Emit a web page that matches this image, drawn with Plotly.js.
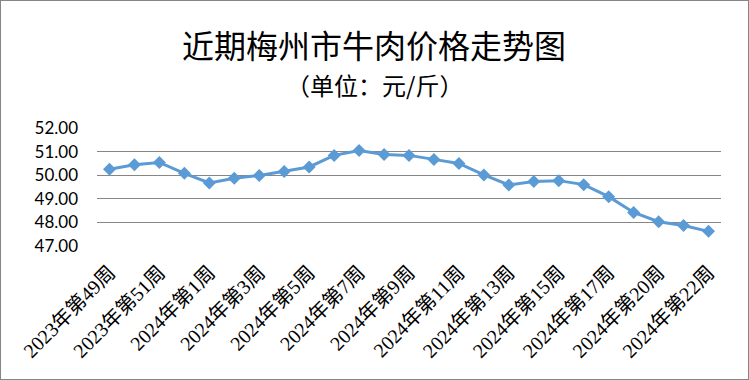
<!DOCTYPE html>
<html>
<head>
<meta charset="utf-8">
<script src="https://cdn.plot.ly/plotly-3.0.1.min.js"></script>
<style>
  html, body { margin: 0; padding: 0; background: #fff; }
  #wrap { position: absolute; left: 0; top: 0; width: 749px; height: 380px; box-sizing: border-box; border: 1px solid #868686; }
  #chart { position: absolute; left: 0; top: 0; width: 747px; height: 378px; }
</style>
</head>
<body>
<div id="wrap"><div id="chart"></div></div>
<script>
const weeks = [
  "2023年第49周","2023年第50周","2023年第51周","2023年第52周",
  "2024年第1周","2024年第2周","2024年第3周","2024年第4周","2024年第5周",
  "2024年第6周","2024年第7周","2024年第8周","2024年第9周","2024年第10周",
  "2024年第11周","2024年第12周","2024年第13周","2024年第14周","2024年第15周",
  "2024年第16周","2024年第17周","2024年第19周","2024年第20周","2024年第21周",
  "2024年第22周"
];
const prices = [
  50.25, 50.44, 50.54, 50.08, 49.67, 49.87, 49.99, 50.16, 50.35, 50.84,
  51.05, 50.88, 50.84, 50.67, 50.50, 50.01, 49.59, 49.73, 49.77, 49.60,
  49.09, 48.42, 48.03, 47.87, 47.62
];
const shownTicks = weeks.filter((w, i) => i % 2 === 0);
const yTicks = [47, 48, 49, 50, 51, 52];
const yTickText = yTicks.map(v => v.toFixed(2));
const titleText = "近期梅州市牛肉价格走势图";
const subtitleText = "（单位：元/斤）";

const trace = {
  type: "scatter",
  mode: "lines+markers",
  x: weeks,
  y: prices,
  line: { color: "#5B9BD5", width: 3 },
  marker: { symbol: "diamond", size: 10, color: "#5B9BD5" },
  hoverinfo: "x+y"
};

const layout = {
  width: 747, height: 378,
  margin: { l: 96, r: 27, t: 127, b: 133 },
  paper_bgcolor: "#ffffff",
  plot_bgcolor: "#ffffff",
  showlegend: false,
  xaxis: {
    type: "category",
    tickmode: "array",
    tickvals: shownTicks,
    ticktext: shownTicks,
    tickangle: -45,
    showgrid: false,
    showline: false,
    zeroline: false,
    ticks: "",
    ticklabelstandoff: 10,
    tickfont: { family: "Liberation Serif, 'Noto Sans CJK SC', serif", size: 20, color: "#000" },
    range: [-0.5, weeks.length - 0.5]
  },
  yaxis: {
    range: [47, 52],
    tickmode: "array",
    tickvals: yTicks,
    ticktext: yTickText,
    showgrid: true,
    gridcolor: "#868686",
    gridwidth: 1,
    zeroline: false,
    showline: false,
    ticks: "",
    ticklabelstandoff: 18,
    tickfont: { family: "Lato, 'Liberation Sans', sans-serif", size: 17, color: "#000" }
  },
  annotations: [
    { text: titleText, xref: "paper", yref: "paper", x: (373 - 96) / 624, y: 1 + (127 - 43) / 118,
      xanchor: "center", yanchor: "middle", showarrow: false,
      font: { family: "'Noto Sans CJK SC', sans-serif", size: 32, color: "#000" } },
    { text: subtitleText, xref: "paper", yref: "paper", x: (373 - 96) / 624, y: 1 + (127 - 83) / 118,
      xanchor: "center", yanchor: "middle", showarrow: false,
      font: { family: "'Noto Sans CJK SC', sans-serif", size: 24, color: "#000" } }
  ]
};

Plotly.newPlot("chart", [trace], layout, { displayModeBar: false, staticPlot: true });
</script>
</body>
</html>
